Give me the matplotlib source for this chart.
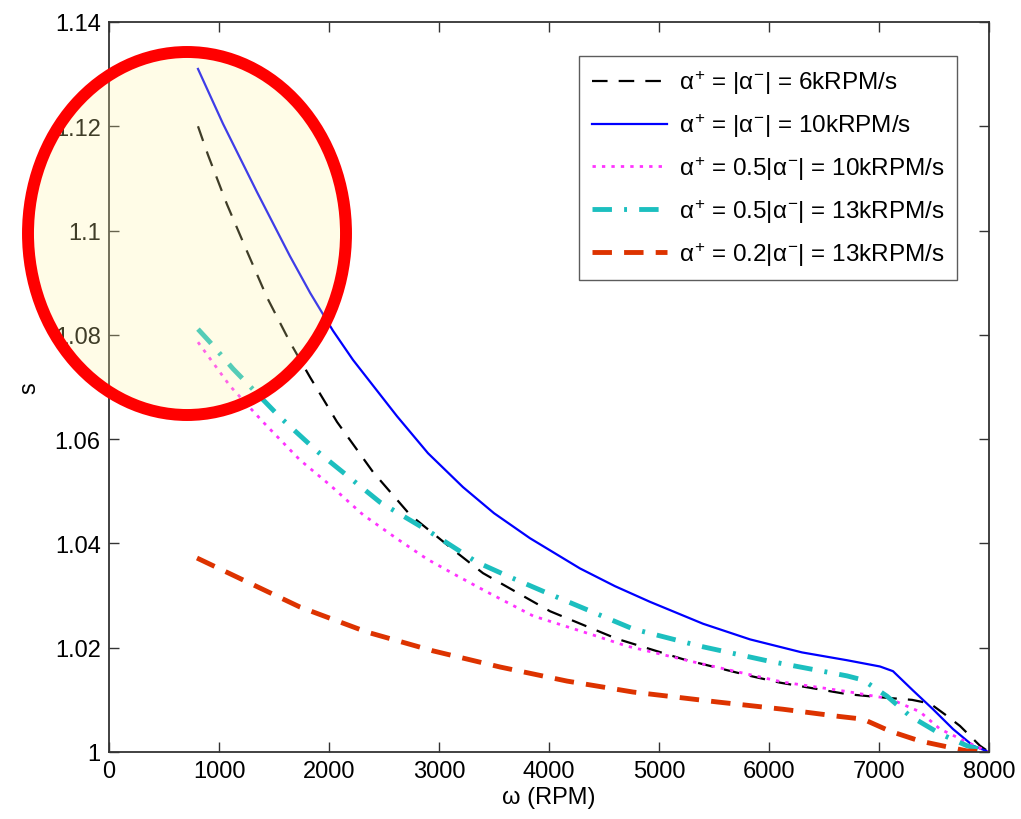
import matplotlib
matplotlib.use("Agg")
import matplotlib.pyplot as plt
from matplotlib.patches import Ellipse

plt.rcParams['font.family'] = ['Liberation Sans', 'DejaVu Sans']
plt.rcParams['mathtext.fontset'] = 'custom'
plt.rcParams['mathtext.rm'] = 'Liberation Sans'
plt.rcParams['mathtext.it'] = 'Liberation Sans'

# ---- data ----
x_black = [809, 900, 1073, 1255, 1436, 1645, 1827, 2073, 2400, 2736, 3164, 3400, 3800, 4009, 4618, 5218, 5827, 6100, 6709, 7009, 7300, 7464, 7600, 7736, 7918, 8000]
y_black = [1.120, 1.1145, 1.1050, 1.0960, 1.0872, 1.0786, 1.0719, 1.0633, 1.0537, 1.0455, 1.0382, 1.0343, 1.0295, 1.0270, 1.0217, 1.0178, 1.0146, 1.0133, 1.0111, 1.0105, 1.0100, 1.0093, 1.0072, 1.0050, 1.0012, 1.000]

x_blue = [809, 1036, 1345, 1645, 1830, 2036, 2218, 2618, 2900, 3218, 3500, 3827, 4282, 4600, 4918, 5400, 5827, 6300, 6709, 7009, 7127, 7309, 7491, 7673, 7855, 8000]
y_blue = [1.131, 1.1205, 1.1074, 1.0951, 1.0880, 1.0808, 1.0752, 1.0644, 1.0573, 1.0508, 1.0458, 1.0410, 1.0352, 1.0318, 1.0288, 1.0246, 1.0216, 1.0191, 1.0176, 1.0164, 1.0155, 1.0118, 1.0082, 1.0044, 1.0012, 1.000]

x_mag = [809, 1100, 1400, 1736, 2009, 2309, 2618, 2891, 3164, 3436, 3855, 4436, 4709, 5309, 6127, 6709, 7100, 7373, 7555, 7800, 8000]
y_mag = [1.0786, 1.0702, 1.0633, 1.0560, 1.0512, 1.0455, 1.0409, 1.0370, 1.0338, 1.0307, 1.0261, 1.0222, 1.0203, 1.0173, 1.0134, 1.0116, 1.0102, 1.0077, 1.0044, 1.0019, 1.000]

x_cyan = [809, 918, 1127, 1555, 1891, 2036, 2464, 2918, 3345, 3618, 3982, 4764, 5373, 5982, 6709, 6855, 7073, 7282, 7555, 7800, 8000]
y_cyan = [1.0811, 1.0786, 1.0735, 1.0642, 1.0577, 1.0552, 1.0479, 1.0422, 1.0364, 1.0338, 1.0305, 1.0236, 1.0203, 1.0175, 1.0146, 1.0138, 1.0107, 1.0069, 1.0035, 1.0012, 1.000]

x_red = [800, 1736, 2345, 2945, 3555, 4164, 4764, 5527, 6127, 6645, 6855, 7100, 7373, 7618, 7800, 8000]
y_red = [1.0372, 1.0278, 1.0230, 1.0194, 1.0163, 1.0136, 1.0115, 1.0096, 1.0082, 1.0068, 1.0063, 1.0040, 1.0021, 1.0010, 1.0002, 1.000]

labels = [r'$\alpha^{+}$ = |$\alpha^{-}$| = 6kRPM/s',
          r'$\alpha^{+}$ = |$\alpha^{-}$| = 10kRPM/s',
          r'$\alpha^{+}$ = 0.5|$\alpha^{-}$| = 10kRPM/s',
          r'$\alpha^{+}$ = 0.5|$\alpha^{-}$| = 13kRPM/s',
          r'$\alpha^{+}$ = 0.2|$\alpha^{-}$| = 13kRPM/s']
xticks = [0, 1000, 2000, 3000, 4000, 5000, 6000, 7000, 8000]
yticks = [1.0, 1.02, 1.04, 1.06, 1.08, 1.10, 1.12, 1.14]
yticklabels = ['1', '1.02', '1.04', '1.06', '1.08', '1.1', '1.12', '1.14']

fig = plt.figure(figsize=(10.21, 8.2), dpi=100)
ax = fig.add_axes([109/1021, 67/820, 880/1021, 730/820])

ax.plot(x_black, y_black, color='black', lw=1.6, dashes=(7, 5), label=labels[0])
ax.plot(x_blue, y_blue, color='#0000FF', lw=1.6, label=labels[1])
ax.plot(x_mag, y_mag, color='#FF33FF', lw=2.0, dashes=(1.2, 2.2), label=labels[2])
ax.plot(x_cyan, y_cyan, color='#1CBFBF', lw=3.5, dashes=(4, 2.5, 0.6, 2.5), label=labels[3])
ax.plot(x_red, y_red, color='#DD3300', lw=3.5, dashes=(4, 2.5), label=labels[4])

ax.set_xlim(0, 8000)
ax.set_ylim(1.0, 1.14)
ax.set_xticks(xticks)
ax.set_xticklabels([str(t) for t in xticks])
ax.set_yticks(yticks)
ax.set_yticklabels(yticklabels)
ax.tick_params(direction='in', length=7, width=1.0, labelsize=17, top=True, right=True,
               color='#333333', pad=6)
for s in ax.spines.values():
    s.set_linewidth(1.3)
    s.set_color('#333333')
ax.set_xlabel('ω (RPM)', fontsize=17, labelpad=3)
ax.set_ylabel('s', fontsize=17, labelpad=10)

leg = ax.legend(loc='upper right', bbox_to_anchor=((957-109)/880, (753-57)/730),
                fontsize=17.5, handlelength=3.1, frameon=True, fancybox=False,
                edgecolor='#333333', borderpad=0.5, labelspacing=0.62, handletextpad=0.5,
                borderaxespad=0)
leg.get_frame().set_linewidth(1.0)

# highlight ellipse annotation
ell = Ellipse((187/1021, 1 - 234.5/820), 318/1021, 363/820, transform=fig.transFigure,
              facecolor=(1.0, 0.96, 0.63, 0.25), edgecolor='#FF0000', linewidth=8.6, zorder=10)
fig.patches.append(ell)

fig.savefig('out.png', dpi=100)
